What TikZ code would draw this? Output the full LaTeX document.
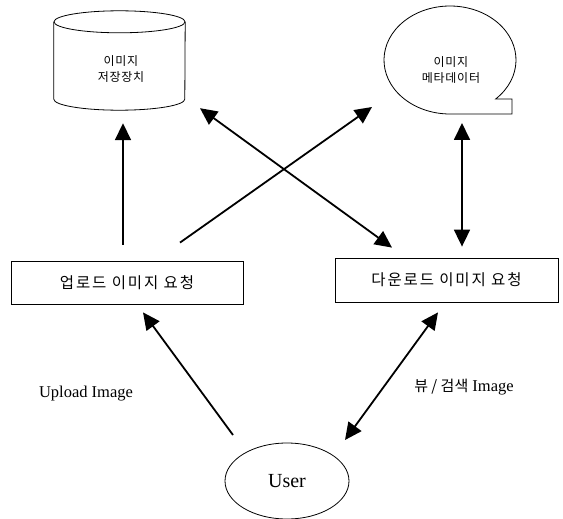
\documentclass[tikz,border=0pt]{standalone}
\usepackage{fontspec}
\setmainfont{Liberation Serif}
\newfontfamily\kr{Noto Sans CJK KR}
\newfontfamily\krbox[LetterSpace=12]{Noto Sans CJK KR}
\newfontfamily\krsmall[LetterSpace=6]{Noto Sans CJK KR}
\usetikzlibrary{shapes.geometric,arrows.meta,calc}
\begin{document}
\begin{tikzpicture}[x=1pt,y=-1pt,
 arr/.style={line width=1.8pt,-{Triangle[length=17pt,width=16pt]}},
 darr/.style={line width=1.8pt,{Triangle[length=17pt,width=16pt]}-{Triangle[length=17pt,width=16pt]}},
 thinline/.style={line width=0.8pt},
 box/.style={draw,thinline,minimum height=43pt,font=\krbox\fontsize{15.5}{18}\selectfont},
 small/.style={font=\krsmall\fontsize{12}{16}\selectfont,align=center},
 lab/.style={font=\fontsize{16.5}{19}\selectfont}]
\useasboundingbox (0,0) rectangle (563,519);
% storage cylinder
\node[minimum width=131pt,minimum height=99pt,inner sep=0pt] (cyl) at (119.5,60.5) {};
\draw[thinline] ($(cyl.north)+(0,11)$) ellipse[x radius=65.5,y radius=11];
\draw[thinline] ($(cyl.north west)+(0,11)$) -- ($(cyl.south west)+(0,-11)$)
  arc[start angle=180,end angle=0,x radius=65.5,y radius=11]
  -- ($(cyl.north east)+(0,11)$);
\node[small] (cyltxt) at (121,69) {이미지\\저장장치};
% metadata bubble
\node[small] (meta) at (451,70) {이미지\\메타데이터};
\draw[thinline] ($(meta)+(-1,-10)$) ++(46.2:66 and 54) arc[start angle=46.2,end angle=-270,x radius=66,y radius=54] -- ++(62,0) -- ++(0,-15) -- cycle;
% boxes
\node[box,minimum width=232pt] (up) at (127,282.5) {업로드 이미지 요청};
\node[box,minimum width=223pt,minimum height=44pt] (down) at (446.5,280) {다운로드 이미지 요청};
\node[ellipse,draw,thinline,minimum width=124pt,minimum height=76pt,font=\fontsize{20}{23}\selectfont] (user) at (287,481) {User};
\node[lab] (upl) at (86,394) {Upload Image};
\node[lab] (vw) at (464,387) {{\kr\fontsize{15}{18}\selectfont 뷰 / 검색} Image};
% connectors
\draw[arr] ($(up.north)+(-4,-16)$) -- ($(cyl.south)+(3.5,13)$);
\draw[arr] ($(up.north)+(53,-18)$) -- ($(meta)+(-79,37)$);
\draw[darr] ($(cyl.south)+(80.5,-2)$) -- ($(down.north)+(-54.5,-10)$);
\draw[darr] ($(meta)+(11,53)$) -- ($(down.north)+(15.5,-11)$);
\draw[arr] ($(user)+(-54,-46)$) -- ($(up.south)+(16,8)$);
\draw[darr] ($(down.south)+(-8.5,10)$) -- ($(user)+(58,-41)$);
\end{tikzpicture}
\end{document}
